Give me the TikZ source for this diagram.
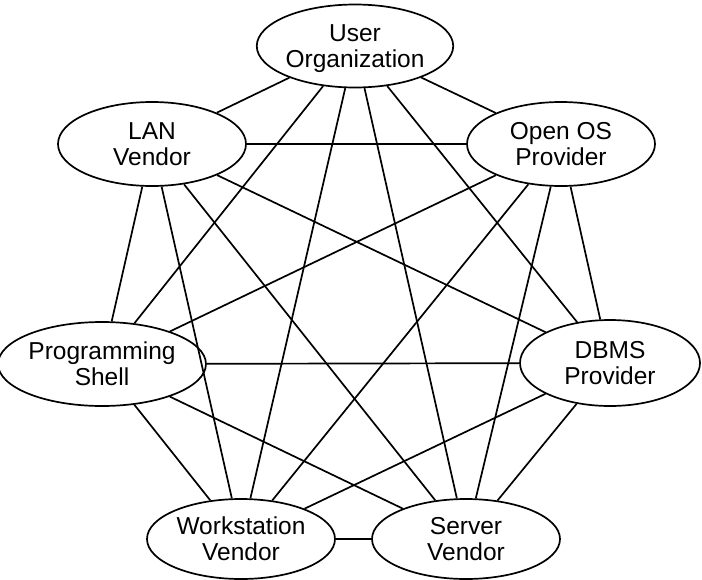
\documentclass[tikz,border=0pt]{standalone}
\usepackage{fontspec}
\setmainfont{Liberation Sans}
\usetikzlibrary{shapes.geometric}
\begin{document}
\begin{tikzpicture}[x=1pt,y=-1pt,
  party/.style={ellipse,draw,line width=1.7pt,inner sep=0pt,align=center,
    fill=white,font=\fontsize{24.5}{26}\selectfont},
  link/.style={line width=1.7pt}]
\useasboundingbox (0,0) rectangle (702,579);
\node[party,minimum width=184pt,minimum height=83pt] (uo)  at (355,46)  {User\\\raisebox{0pt}[\height][0pt]{Organization}};
\node[party,minimum width=188pt,minimum height=84pt] (lan) at (152,144) {LAN\\Vendor};
\node[party,minimum width=188pt,minimum height=84pt] (os)  at (561,144) {Open OS\\Provider};
\node[party,minimum width=190pt,minimum height=84pt] (ps)  at (102,364) {Programming\\Shell};
\node[party,minimum width=180pt,minimum height=86pt] (db)  at (610,363) {DBMS\\Provider};
\node[party,minimum width=188pt,minimum height=80pt] (ws)  at (241,539) {Workstation\\Vendor};
\node[party,minimum width=188pt,minimum height=80pt] (sv)  at (466,539) {Server\\Vendor};
\foreach \a/\b in {uo/lan,uo/os,uo/ps,uo/db,uo/ws,uo/sv,
                   lan/os,lan/ps,lan/db,lan/ws,lan/sv,
                   os/ps,os/db,os/ws,os/sv,
                   ps/db,ps/ws,ps/sv,
                   db/ws,db/sv,
                   ws/sv}
  \draw[link] (\a) -- (\b);
\end{tikzpicture}
\end{document}
